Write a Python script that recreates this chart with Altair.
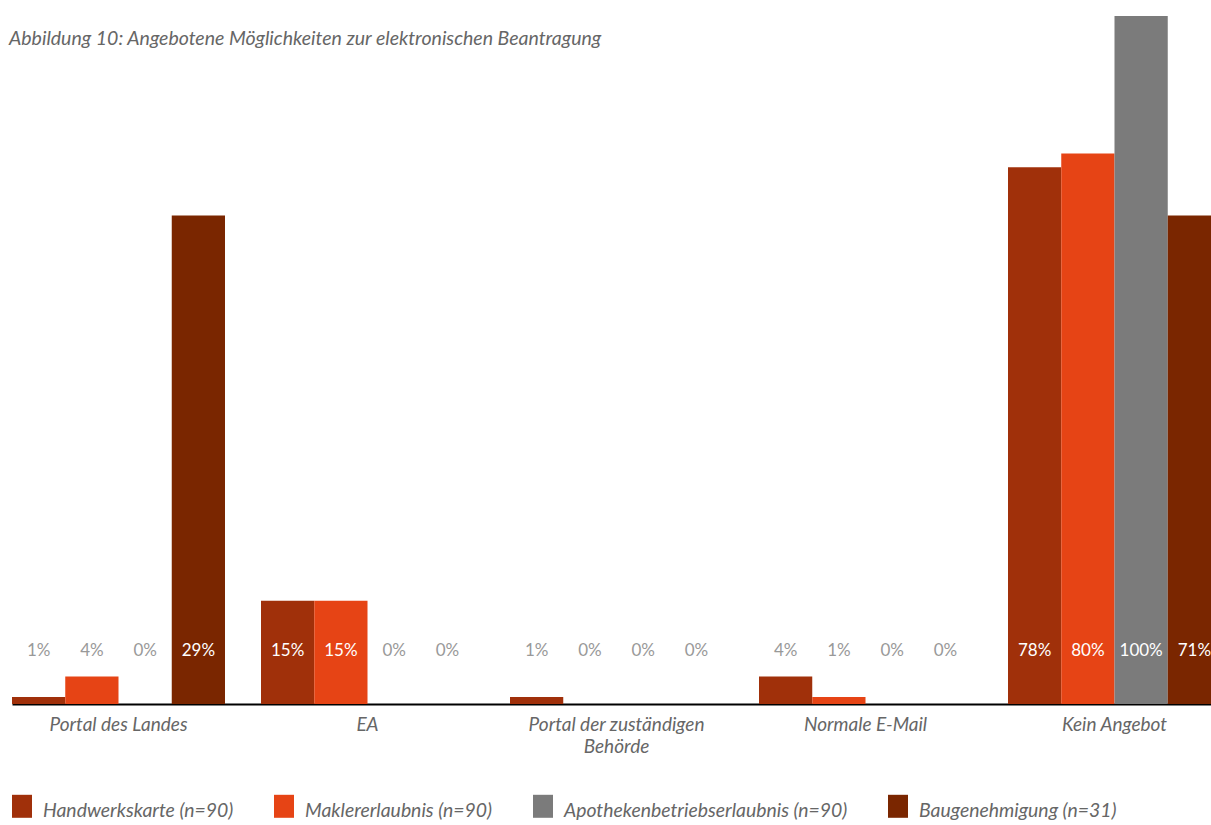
import altair as alt
import pandas as pd

categories = ["Portal des Landes", "EA", "Portal der zuständigen Behörde", "Normale E-Mail", "Kein Angebot"]
series = ["Handwerkskarte (n=90)", "Maklererlaubnis (n=90)",
          "Apothekenbetriebserlaubnis (n=90)", "Baugenehmigung (n=31)"]

# bar heights as drawn in the picture (percent)
handwerk = [1, 15, 1, 4, 78]
makler = [4, 15, 0, 1, 80]
apotheke = [0, 0, 0, 0, 100]
bau = [71, 0, 0, 0, 71]  # first bar is drawn at the 71 % level although labelled 29 %

# printed value labels
handwerk_lbl = ["1%", "15%", "1%", "4%", "78%"]
makler_lbl = ["4%", "15%", "0%", "1%", "80%"]
apotheke_lbl = ["0%", "0%", "0%", "0%", "100%"]
bau_lbl = ["29%", "0%", "0%", "0%", "71%"]

colors = ["#A0300A", "#E64415", "#7B7B7B", "#7A2600"]

rows = []
for s, vals, lbls in zip(series, [handwerk, makler, apotheke, bau],
                         [handwerk_lbl, makler_lbl, apotheke_lbl, bau_lbl]):
    for c, v, l in zip(categories, vals, lbls):
        rows.append({"category": c, "series": s, "value": v, "label": l,
                     "lblcolor": "#ffffff" if v >= 8 else "#999999"})
df = pd.DataFrame(rows)

label_expr = ("datum.value == 'Portal der zuständigen Behörde' ? "
              "['Portal der zuständigen', 'Behörde'] : datum.value")

x = alt.X("category:N", sort=categories,
          scale=alt.Scale(range=[0, 1209], paddingInner=36 / 249, paddingOuter=0),
          axis=alt.Axis(title=None, labelAngle=0, ticks=False, domain=True,
                        domainColor="#000000", domainWidth=2,
                        labelFont="Lato", labelFontStyle="italic", labelFontSize=19,
                        labelColor="#666666", labelPadding=11, labelLimit=400,
                        labelLineHeight=22, labelExpr=label_expr))
xo = alt.XOffset("series:N", sort=series, scale=alt.Scale(paddingInner=0, paddingOuter=0))
y_scale = alt.Scale(domain=[0, 100])

bars = alt.Chart(df).mark_bar().encode(
    x=x, xOffset=xo,
    y=alt.Y("value:Q", scale=y_scale, axis=None),
    color=alt.Color("series:N", sort=series,
                    scale=alt.Scale(domain=series, range=colors),
                    legend=alt.Legend(title=None, orient="none", legendX=0, legendY=785,
                                      direction="horizontal", columns=4,
                                      symbolType="M-1,-1.65H1V0.65H-1Z", symbolSize=400,
                                      symbolStrokeWidth=0, symbolOpacity=1,
                                      labelFont="Lato", labelFontStyle="italic",
                                      labelFontSize=19.4, labelColor="#666666",
                                      labelOffset=11, columnPadding=40, padding=0,
                                      labelLimit=500)),
)

texts = alt.Chart(df).mark_text(font="Lato", fontSize=17, baseline="middle").encode(
    x=x, xOffset=xo,
    y=alt.Y(datum=7.7, scale=y_scale),
    text="label:N",
    color=alt.Color("lblcolor:N", scale=None),
)

chart = alt.layer(bars, texts).properties(
    width=1199, height=688,
    background="#ffffff",
    autosize=alt.AutoSizeParams(type="none"),
    padding={"left": 12, "top": 16, "right": 0, "bottom": 121},
    title=alt.TitleParams("Abbildung 10: Angebotene Möglichkeiten zur elektronischen Beantragung",
                          anchor="start", font="Lato", fontStyle="italic", fontSize=19.5,
                          fontWeight="normal", color="#666666", offset=0, dx=-3, dy=48,
                          baseline="alphabetic"),
).configure_view(strokeWidth=0, stroke="transparent")

chart.save("out.html", embed_options={"renderer": "svg", "actions": False})
